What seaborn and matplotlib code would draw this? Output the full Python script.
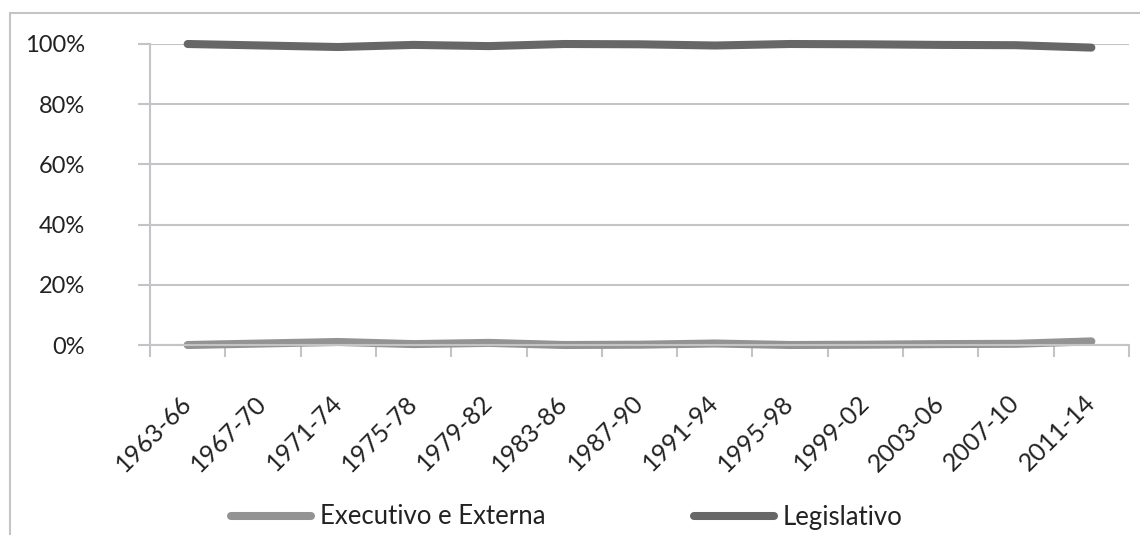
import pandas as pd
import matplotlib
matplotlib.use("Agg")
import matplotlib.pyplot as plt
from matplotlib.lines import Line2D
from matplotlib.ticker import FixedLocator, PercentFormatter
import seaborn as sns

# data
periods = ["1963-66", "1967-70", "1971-74", "1975-78", "1979-82", "1983-86",
           "1987-90", "1991-94", "1995-98", "1999-02", "2003-06", "2007-10",
           "2011-14"]
executivo = [0.0, 0.5, 1.0, 0.3, 0.7, 0.0, 0.1, 0.5, 0.0, 0.1, 0.3, 0.4, 1.2]
legislativo = [100.0, 99.5, 99.0, 99.7, 99.3, 100.0, 99.9, 99.5, 100.0, 99.9, 99.7, 99.6, 98.8]
series = ["Executivo e Externa", "Legislativo"]
colors = ["#939393", "#676767"]

sns.set_theme(style="white")
plt.rcParams["font.family"] = ["Lato", "DejaVu Sans"]

df = pd.DataFrame({
    "periodo": periods * 2,
    "valor": [v / 100 for v in executivo] + [v / 100 for v in legislativo],
    "serie": [series[0]] * len(periods) + [series[1]] * len(periods),
})

grid_col = "#c4c4c8"
fig = plt.figure(figsize=(11.4, 5.35), dpi=100)
ax = fig.add_axes([150 / 1140, 1 - 345 / 535, (1129 - 150) / 1140, (345 - 44) / 535])

sns.lineplot(data=df, x="periodo", y="valor", hue="serie", palette=colors,
             linewidth=5.8, sort=False, ax=ax, legend=False)
for ln in ax.get_lines():
    ln.set_solid_capstyle("round")
    ln.set_clip_on(False)

ax.set_xlim(-0.5, len(periods) - 0.5)
ax.set_ylim(0, 1)
ax.yaxis.set_major_locator(FixedLocator([0, 0.2, 0.4, 0.6, 0.8, 1.0]))
ax.yaxis.set_major_formatter(PercentFormatter(1.0, decimals=0))
ax.grid(axis="y", color=grid_col, linewidth=1.5)
ax.set_axisbelow(True)
ax.set_xlabel("")
ax.set_ylabel("")

for s in ["top", "right"]:
    ax.spines[s].set_visible(False)
for s in ["left", "bottom"]:
    ax.spines[s].set_color(grid_col)
    ax.spines[s].set_linewidth(1.5)

ax.tick_params(axis="y", length=8.6, width=1.5, color=grid_col, pad=38,
               labelsize=17, labelcolor="#222222", direction="out", left=True)
ax.set_xticks(range(len(periods)))
ax.set_xticks([i - 0.5 for i in range(len(periods) + 1)], minor=True)
ax.tick_params(axis="x", which="minor", length=8.6, width=1.5, color=grid_col,
               direction="out", bottom=True)
ax.tick_params(axis="x", which="major", length=0, pad=39, labelsize=18,
               labelcolor="#222222")
ax.set_xticklabels(periods, rotation=45, ha="right", va="center",
                   rotation_mode="anchor")

handles = [Line2D([], [], color=c, linewidth=5.8, solid_capstyle="round") for c in colors]
fig.legend(handles, series, loc="center", bbox_to_anchor=(567 / 1140, 1 - 517 / 535),
           ncol=2, frameon=False, fontsize=18.5, handlelength=3.1, handletextpad=0.35,
           columnspacing=5.8, labelcolor="#222222")

# outer chart frame (clipped at right and bottom like the source)
fig.add_artist(Line2D([9.5 / 1140, 1.0], [1 - 13 / 535] * 2, color=grid_col,
                      linewidth=1.5, transform=fig.transFigure))
fig.add_artist(Line2D([9.5 / 1140] * 2, [0.0, 1 - 13 / 535], color=grid_col,
                      linewidth=1.5, transform=fig.transFigure))

fig.savefig("out.png", dpi=100)
